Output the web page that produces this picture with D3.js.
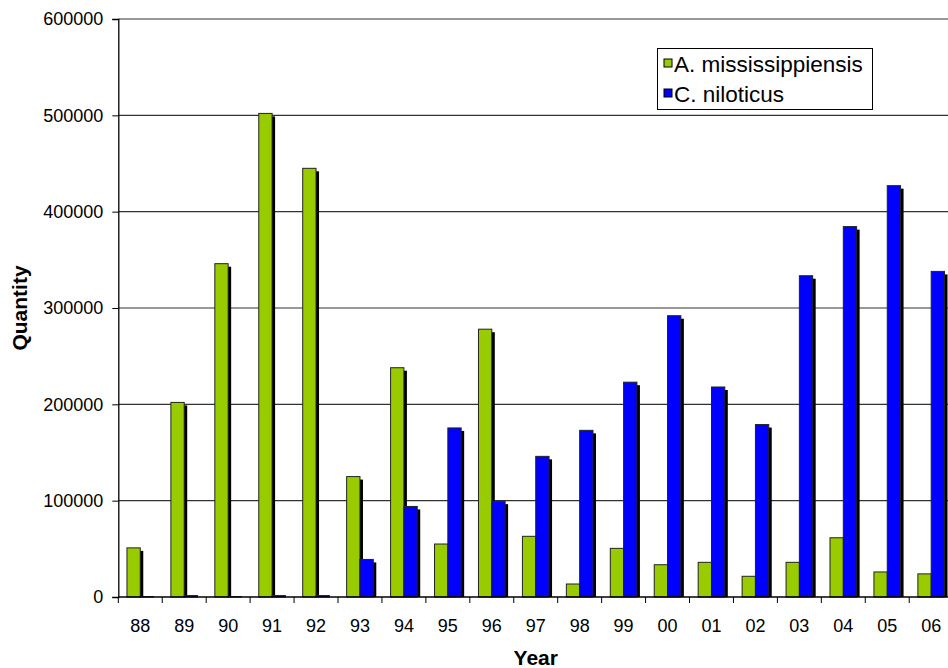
<!DOCTYPE html>
<html>
<head>
<meta charset="utf-8">
<script src="https://cdn.jsdelivr.net/npm/d3@7"></script>
<style>
  body { margin: 0; background: #fff; }
  svg { display: block; font-family: Arial, "Liberation Sans", sans-serif; }
</style>
</head>
<body>
<svg id="chart" width="948" height="668"></svg>
<script>
// 数据：年份与两个物种的数量
var years = ["88","89","90","91","92","93","94","95","96","97","98","99","00","01","02","03","04","05","06"];
var seriesNames = ["A. mississippiensis", "C. niloticus"];
var alligatorValues = [51000, 202000, 346000, 502000, 445000, 125000, 238000, 55000, 278000, 63000, 13500, 50500, 33500, 36000, 21500, 36000, 61500, 26000, 24000];
var nileValues = [300, 1500, 300, 1500, 1500, 39000, 94000, 175500, 99500, 146000, 173000, 223000, 292000, 218000, 179000, 333500, 384500, 427000, 338000];
var yTicks = [0, 100000, 200000, 300000, 400000, 500000, 600000];
var colors = ["#99CC00", "#0000FF"];

function draw_chart () {
  var svg = d3.select("#chart");
  var left = 118.3, plotTop = 19, bottom = 597, step = 43.94;

  // x 方向：类别带，右边超出画布被裁掉
  var x0 = d3.scaleBand().domain(years).range([left, left + step * years.length]).padding(0);
  var x1 = d3.scaleBand().domain(seriesNames).range([0, x0.bandwidth()]).paddingInner(0).paddingOuter(0.65);
  var y = d3.scaleLinear().domain([0, 600000]).range([bottom, plotTop]);

  // 网格线
  svg.append("g")
    .selectAll("line")
    .data(yTicks.slice(1))
    .enter().append("line")
    .attr("x1", left).attr("x2", 948)
    .attr("y1", function (d) { return y(d); })
    .attr("y2", function (d) { return y(d); })
    .attr("stroke", "#333").attr("stroke-width", 1.2);

  // 柱子（带阴影）
  var rows = years.map(function (yr, i) {
    return { year: yr, vals: [alligatorValues[i], nileValues[i]] };
  });
  var groups = svg.append("g").selectAll("g")
    .data(rows).enter().append("g")
    .attr("transform", function (d) { return "translate(" + x0(d.year) + ",0)"; });

  seriesNames.forEach(function (name, k) {
    // 阴影
    groups.append("rect")
      .attr("x", x1(name) + 3)
      .attr("y", function (d) { return Math.min(y(d.vals[k]) + 3, bottom); })
      .attr("width", x1.bandwidth())
      .attr("height", function (d) { return Math.max(0, bottom - y(d.vals[k]) - 3); })
      .attr("fill", "#000");
    groups.append("rect")
      .attr("x", x1(name))
      .attr("y", function (d) { return y(d.vals[k]); })
      .attr("width", x1.bandwidth())
      .attr("height", function (d) { return bottom - y(d.vals[k]); })
      .attr("fill", colors[k])
      .attr("stroke", "#222").attr("stroke-width", 1);
  });

  // y 轴
  var yAxis = svg.append("g")
    .attr("transform", "translate(" + left + ",0)")
    .call(d3.axisLeft(y).tickValues(yTicks).tickSize(6).tickPadding(9).tickFormat(d3.format("d")));
  yAxis.select(".domain").attr("stroke", "#000").attr("stroke-width", 1.3);
  yAxis.selectAll(".tick line").attr("stroke", "#000");
  yAxis.selectAll("text").attr("font-size", 18).attr("fill", "#000")
    .attr("font-family", "Arial, 'Liberation Sans', sans-serif");

  // x 轴：刻度线在类别边界上
  var xAxis = svg.append("g").attr("transform", "translate(0," + bottom + ")");
  xAxis.append("line")
    .attr("x1", left).attr("x2", 948).attr("y1", 0).attr("y2", 0)
    .attr("stroke", "#000").attr("stroke-width", 1.3);
  xAxis.selectAll(".tk")
    .data(years).enter().append("line")
    .attr("x1", function (d) { return x0(d); })
    .attr("x2", function (d) { return x0(d); })
    .attr("y1", 0).attr("y2", 6)
    .attr("stroke", "#000");
  xAxis.selectAll(".lbl")
    .data(years).enter().append("text")
    .attr("x", function (d) { return x0(d) + x0.bandwidth() / 2; })
    .attr("y", 34.5)
    .attr("text-anchor", "middle")
    .attr("font-size", 18)
    .text(function (d) { return d; });

  // 轴标题
  svg.append("text")
    .attr("x", left + step * years.length / 2).attr("y", 665)
    .attr("text-anchor", "middle")
    .attr("font-size", 21).attr("font-weight", "bold")
    .text("Year");
  svg.append("text")
    .attr("transform", "translate(27," + (plotTop + bottom) / 2 + ") rotate(-90)")
    .attr("text-anchor", "middle")
    .attr("font-size", 21).attr("font-weight", "bold")
    .text("Quantity");

  // 图例
  var legend = svg.append("g");
  legend.append("rect")
    .attr("x", 657.5).attr("y", 48.5).attr("width", 215).attr("height", 61)
    .attr("fill", "#fff").attr("stroke", "#000").attr("stroke-width", 1);
  seriesNames.forEach(function (name, k) {
    legend.append("rect")
      .attr("x", 664).attr("y", 59 + k * 30).attr("width", 8).attr("height", 8)
      .attr("fill", colors[k]).attr("stroke", "#000").attr("stroke-width", 1);
    legend.append("text")
      .attr("x", 674).attr("y", 71.5 + k * 30)
      .attr("font-size", 22.5)
      .text(name);
  });
}

draw_chart();
</script>
</body>
</html>
